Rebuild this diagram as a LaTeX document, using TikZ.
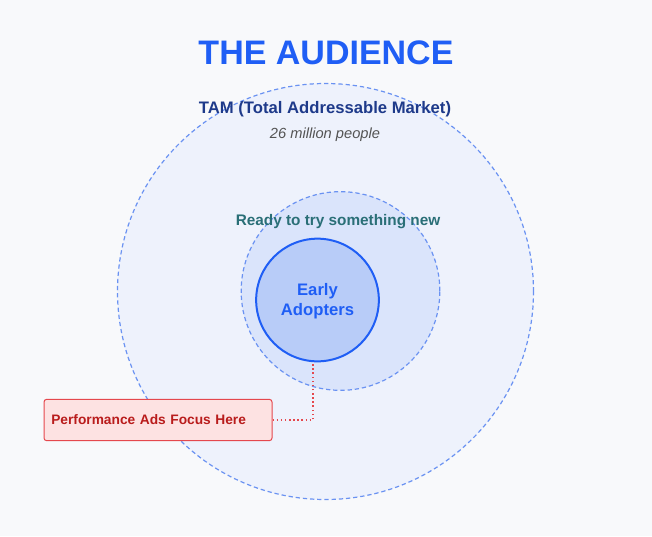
\documentclass[tikz,border=0pt]{standalone}
\usepackage{fontspec}
\setmainfont{Liberation Sans}
\usetikzlibrary{positioning}
\definecolor{bgc}{HTML}{F8F9FB}
\definecolor{tamfill}{HTML}{EEF2FC}
\definecolor{readyfill}{HTML}{DAE4FB}
\definecolor{earlyfill}{HTML}{B8CCF8}
\definecolor{ringblue}{HTML}{6A92F2}
\definecolor{titleblue}{HTML}{1F5EF5}
\definecolor{tamblue}{HTML}{1E3A8A}
\definecolor{teal}{HTML}{2A6F77}
\definecolor{redline}{HTML}{E5484D}
\definecolor{redfill}{HTML}{FDE2E2}
\definecolor{redtext}{HTML}{B91C1C}
\tikzset{
  ring/.style={draw=ringblue,line width=0.9pt,dash pattern=on 3.2pt off 2.2pt,shape=circle,inner sep=0pt},
  lbl/.style={font=\bfseries,inner sep=0pt}
}
\begin{document}
\begin{tikzpicture}[x=0.75pt,y=-0.75pt]
  \useasboundingbox[fill=bgc] (0,0) rectangle (652,536);
  \node[ring,fill=tamfill,minimum size=312pt] (tam) at (325.5,291.5) {};
  \node[ring,fill=readyfill,minimum size=149pt] (ready) at (340.5,291) {};
  \node[shape=circle,draw=titleblue,fill=earlyfill,line width=1.5pt,minimum size=92pt,inner sep=0pt] (early) at (317.5,300) {};
  \node[lbl,text=titleblue,font=\fontsize{25.5}{30}\selectfont\bfseries] (title) at (326,53) {THE AUDIENCE};
  \node[lbl,text=tamblue,font=\fontsize{12.5}{15}\selectfont\bfseries] (tamlbl) at (325,109) {TAM (Total Addressable Market)};
  \node[inner sep=0pt,text=black!67,font=\fontsize{11}{13}\selectfont\itshape] (tamsub) at (325,135) {26 million people};
  \node[lbl,text=teal,font=\fontsize{11.5}{14}\selectfont\bfseries] (readylbl) at (338,222) {Ready to try something new};
  \node[lbl,text=titleblue,align=center,font=\fontsize{12.5}{15}\selectfont\bfseries] (earlylbl) at (317.5,301) {Early\\Adopters};
  \node[draw=redline,fill=redfill,rounded corners=2pt,line width=0.75pt,minimum width=171pt,minimum height=31pt,
        text=redtext,font=\fontsize{10.3}{12}\selectfont\bfseries,text width=160pt,inner sep=0pt,align=left] (focus) at (158,420) {Performance Ads Focus Here};
  \draw[redline,line width=1.1pt,dotted] (focus.east) -| (early.266);
\end{tikzpicture}
\end{document}
